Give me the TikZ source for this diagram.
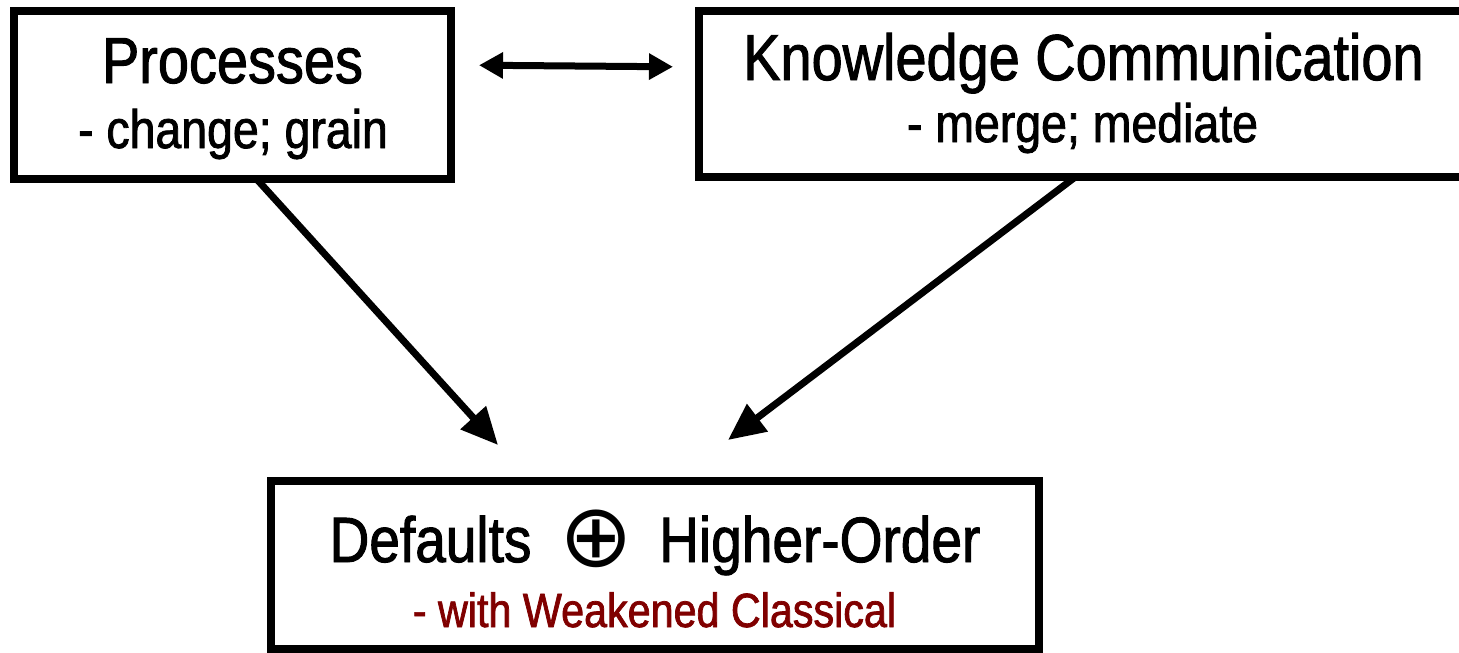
\documentclass[tikz,border=0pt]{standalone}
\usepackage{fontspec}
\setmainfont{Liberation Sans}[FakeStretch=0.86, FakeBold=1.5]
\newfontfamily\symfont{DejaVu Sans}
\usetikzlibrary{arrows.meta}
\definecolor{darkred}{RGB}{128,0,0}
\tikzset{
  box/.style={draw=black, line width=8pt, inner sep=0pt, outer sep=0pt, fill=none},
  titletxt/.style={anchor=base, inner sep=0pt, font=\fontsize{65}{70}\selectfont},
  subtxt/.style={anchor=base, inner sep=0pt, font=\fontsize{54}{60}\selectfont},
  redtxt/.style={anchor=base, inner sep=0pt, text=darkred, font=\fontsize{48}{54}\selectfont},
  diagarr/.style={line width=7pt, -{Triangle[length=37pt,width=33pt]}},
  dblarr/.style={line width=7pt, {Triangle[length=24pt,width=25pt]}-{Triangle[length=24pt,width=25pt]}}
}
\begin{document}
\begin{tikzpicture}[x=1pt,y=-1pt]
\useasboundingbox (0,0) rectangle (1459,653);
% boxes
\node[box, minimum width=437pt, minimum height=168pt] (proc) at (232.5,95) {};
\node[box, minimum width=767pt, minimum height=166pt] (know) at (1082.5,94) {};
\node[box, minimum width=768pt, minimum height=168pt] (def) at (655,565) {};
% texts
\node[titletxt] (proct) at (232.5,83) {Processes};
\node[subtxt] (procs) at (233,148) {- change; grain};
\node[titletxt] (knowt) at (1083.5,80) {Knowledge Communication};
\node[subtxt] (knows) at (1082.5,142) {- merge; mediate};
\node[titletxt, font=\fontsize{64}{70}\selectfont] (deft) at (655,562) {Defaults\hspace{28pt}\raisebox{-4pt}{\symfont\fontsize{88}{90}\selectfont ⊕}\hspace{26pt}Higher-Order};
\node[redtxt] (defs) at (654.5,627) {- with Weakened Classical};
% connectors
\coordinate (e1) at (498,445);
\coordinate (e2) at (728,440);
\draw[diagarr] (proc.-74) -- (e1);
\draw[diagarr] (know.-95) -- (e2);
\draw[dblarr, shorten <=28pt, shorten >=26pt] ([yshift=30pt]proc.east) -- ([yshift=27pt]know.west);
\end{tikzpicture}
\end{document}
